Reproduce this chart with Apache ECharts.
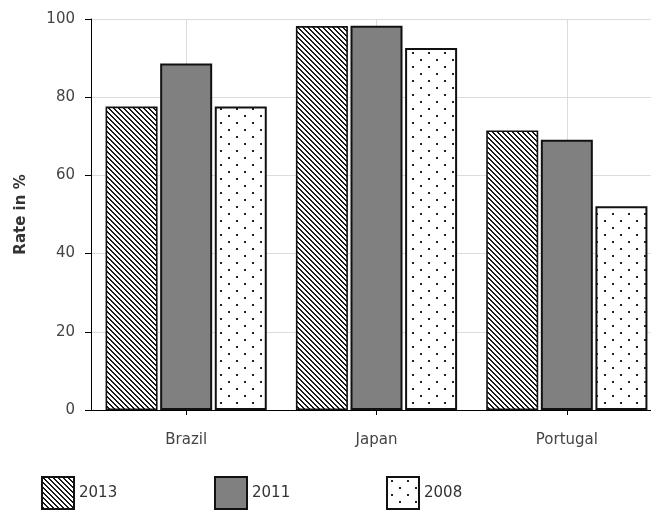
<!DOCTYPE html>
<html>
<head>
<meta charset="utf-8">
<script src="https://cdn.jsdelivr.net/npm/echarts@6/dist/echarts.min.js"></script>
<style>
  html, body { margin: 0; padding: 0; background: #fff; }
  #chart { width: 651px; height: 511px; }
</style>
</head>
<body>
<div id="chart"></div>
<script>
// Rates per country and survey year
const countries = ['Brazil', 'Japan', 'Portugal'];
const years = ['2013', '2011', '2008'];
const rate2013 = [77.6, 98.2, 71.5];
const rate2011 = [88.6, 98.3, 69.1];
const rate2008 = [77.6, 92.6, 52.1];
const yTicks = { min: 0, max: 100, step: 20 };

const FONT = '"DejaVu Sans", Verdana, sans-serif';

// Diagonal "\" hatching drawn pixel by pixel so the stripes stay crisp
function hatchTile() {
  const n = 5;
  const c = document.createElement('canvas');
  c.width = n; c.height = n;
  const g = c.getContext('2d');
  g.fillStyle = '#fff';
  g.fillRect(0, 0, n, n);
  g.fillStyle = '#1a1a1a';
  for (let r = 0; r < n; r++) {
    g.fillRect(r, r, 1, 1);
    g.fillRect((r + 1) % n, r, 1, 1);
  }
  return c;
}

// Staggered dots on white
function dotTile() {
  const w = 16, h = 14;
  const c = document.createElement('canvas');
  c.width = w; c.height = h;
  const g = c.getContext('2d');
  g.fillStyle = '#fff';
  g.fillRect(0, 0, w, h);
  g.fillStyle = '#222';
  [[4, 3], [12, 10]].forEach(([x, y]) => {
    g.fillRect(x, y, 2, 2);
  });
  return c;
}

const fills = {
  '2013': { image: hatchTile(), repeat: 'repeat' },
  '2011': '#808080',
  '2008': { image: dotTile(), repeat: 'repeat' }
};
const borderW = { '2013': 1.6, '2011': 2, '2008': 2 };
const values = { '2013': rate2013, '2011': rate2011, '2008': rate2008 };

const series = years.map(y => ({
  name: y,
  type: 'bar',
  xAxisIndex: 0,
  data: values[y],
  barWidth: 52,
  barGap: '5%',
  itemStyle: {
    color: fills[y],
    borderColor: '#111',
    borderWidth: borderW[y]
  },
  emphasis: { disabled: true }
}));

const legendLeft = [41, 214, 386];
const legends = years.map((y, i) => ({
  data: [y],
  left: legendLeft[i],
  top: 476,
  padding: 0,
  icon: 'rect',
  itemWidth: 32,
  itemHeight: 32,
  itemGap: 5,
  selectedMode: false,
  textStyle: { fontFamily: FONT, fontSize: 15, color: '#333' }
}));

// half-step slots used only to place vertical grid lines at category centres
const halfSlots = ['', '', '', '', '', '', ''];

const chart = echarts.init(document.getElementById('chart'), null, { renderer: 'canvas' });
chart.setOption({
  animation: false,
  backgroundColor: '#fff',
  grid: { left: 91, top: 19, right: -11, bottom: 101, outerBoundsMode: 'none', containLabel: false },
  legend: legends,
  xAxis: [{
    type: 'category',
    data: countries,
    boundaryGap: true,
    z: 3,
    axisLine: { show: true, lineStyle: { color: '#000', width: 1 } },
    axisTick: { show: true, alignWithLabel: true, length: 5, lineStyle: { color: '#000' } },
    axisLabel: { margin: 23, fontFamily: FONT, fontSize: 15, color: '#444' },
    splitLine: { show: false }
  }, {
    type: 'category',
    data: halfSlots,
    boundaryGap: false,
    position: 'bottom',
    axisLine: { show: false },
    axisTick: { show: false },
    axisLabel: { show: false },
    splitLine: { show: true, interval: (i) => i % 2 === 1, lineStyle: { color: '#dcdcdc', width: 1 } }
  }],
  yAxis: {
    type: 'value',
    min: yTicks.min,
    max: yTicks.max,
    interval: yTicks.step,
    name: 'Rate in %',
    nameLocation: 'middle',
    nameRotate: 90,
    nameGap: 62,
    nameTextStyle: { fontFamily: FONT, fontSize: 15, fontWeight: 'bold', color: '#333' },
    axisLine: { show: true, lineStyle: { color: '#000', width: 1 } },
    axisTick: { show: true, length: 6, lineStyle: { color: '#000' } },
    axisLabel: { margin: 16, fontFamily: FONT, fontSize: 15, color: '#444' },
    splitLine: { show: true, lineStyle: { color: '#dcdcdc', width: 1 } }
  },
  series: series
});
</script>
</body>
</html>
